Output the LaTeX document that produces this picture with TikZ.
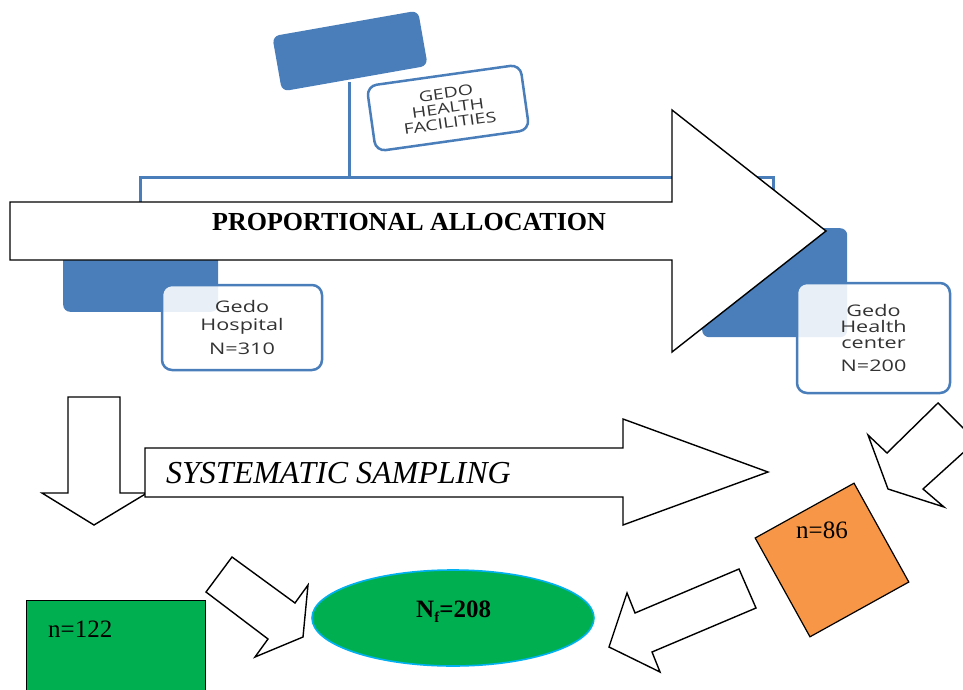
\documentclass[tikz,border=0pt]{standalone}
\usepackage{fontspec}
\setmainfont{Liberation Serif}
\newfontfamily\boxfont[FakeStretch=1.35]{Open Sans}
\definecolor{sblue}{HTML}{4A7EBB}
\definecolor{sgreen}{HTML}{00B050}
\definecolor{sorange}{HTML}{F79646}
\definecolor{scyan}{HTML}{00B0F0}
\definecolor{txtgray}{HTML}{333333}
\tikzset{
  blueshape/.style={fill=sblue, draw=none, rounded corners=7pt, inner sep=0pt},
  infobox/.style={draw=sblue, line width=2.5pt, fill=white, fill opacity=0.88, text opacity=1,
    rounded corners=10pt, inner sep=0pt, align=center, text=txtgray},
  blockarrow/.style={draw=black, line width=1.4pt, fill=white, line join=miter},
  bline/.style={draw=sblue, line width=3pt},
  serifbig/.style={inner sep=0pt, font=\fontsize{25}{25}\selectfont},
}
\begin{document}
\begin{tikzpicture}[x=1pt,y=-1pt]
\useasboundingbox (0,0) rectangle (963,690);
\begin{scope}
\clip (0,0) rectangle (963,690);

% connector lines of the hierarchy
\coordinate (vtop) at (349,82);
\coordinate (vjoin) at (349,177);
\coordinate (lend) at (140,205);
\coordinate (rend) at (773,195);
\draw[bline] (vtop) -- (vjoin);
\draw[bline] (lend) -- (140,177) -- (773,177) -- (rend);

% blue background shapes
\node[blueshape, rotate=10, minimum width=148pt, minimum height=56pt] (topb) at (350,51) {};
\node[blueshape, minimum width=155pt, minimum height=95pt, anchor=south west] (leftb) at (63,312) {};
\node[blueshape, minimum width=145pt, minimum height=109pt, anchor=north west] (rightb) at (702,228) {};

% top label box
\node[infobox, rotate=8, minimum width=155pt, minimum height=66pt,
      font=\boxfont\fontsize{14.5}{15}\selectfont] (gedo) at (448,108) {GEDO\\HEALTH\\FACILITIES};

% big arrow: proportional allocation
\draw[blockarrow] (10,202) -- (672,202) -- (672,110) -- (826,231) -- (672,352) -- (672,260) -- (10,260) -- cycle;
\node[inner sep=0pt, anchor=base west, font=\bfseries\fontsize{26}{26}\selectfont] (prop) at (212,230) {PROPORTIONAL ALLOCATION};

% facility boxes
\node[infobox, minimum width=160pt, minimum height=85pt,
      font=\boxfont\fontsize{16}{18}\selectfont] (hosp) at (242,327.5) {Gedo\\Hospital\\[6pt]N=310};
\node[infobox, minimum width=153pt, minimum height=110pt,
      font=\boxfont\fontsize{16}{16}\selectfont] (hc) at (873.5,338) {Gedo\\Health\\center\\[7pt]N=200};

% down arrow (left)
\draw[blockarrow] (68,397) -- (120,397) -- (120,493) -- (147,493) -- (94,525) -- (42,493) -- (68,493) -- cycle;

% systematic sampling arrow
\draw[blockarrow] (145,448) -- (623,448) -- (623,419) -- (768,472) -- (623,525) -- (623,497) -- (145,497) -- cycle;
\node[inner sep=0pt, anchor=base west, font=\itshape\fontsize{32}{32}\selectfont] (sys) at (166,483) {SYSTEMATIC SAMPLING};

% arrow from health centre down-left
\draw[blockarrow] (938,403) -- (976,441) -- (923,489) -- (944,507) -- (888,489) -- (868,435) -- (887,453) -- cycle;

% orange square n=86
\node[fill=sorange, draw=black, line width=1.2pt, rotate=29, minimum size=113pt, inner sep=0pt] (sq) at (832,560) {};
\node[serifbig, anchor=base west] (t86) at (796,538) {n=86};

% arrow from orange square to ellipse
\draw[blockarrow] (739,569) -- (756,608) -- (652,652) -- (660,672) -- (609,647) -- (627,593) -- (635,613) -- cycle;

% green rectangle n=122
\node[fill=sgreen, draw=black, line width=1.2pt, minimum width=179pt, minimum height=100pt, anchor=north west, inner sep=0pt] (g122) at (26,600) {};
\node[serifbig, anchor=base west] (t122) at (48,637) {n=122};

% arrow from n=122 to ellipse
\draw[blockarrow] (232,557) -- (295,603) -- (308,585) -- (303,637) -- (255,657) -- (268,639) -- (206,592) -- cycle;

% ellipse Nf=208
\draw[fill=sgreen, draw=scyan, line width=1.6pt] (453,618) ellipse [x radius=141pt, y radius=48pt];
\node[serifbig, anchor=base west, font=\bfseries\fontsize{25}{25}\selectfont] (nf) at (416,617) {N\raisebox{-0.22em}{\fontsize{15}{15}\selectfont f}=208};
\end{scope}
\end{tikzpicture}
\end{document}
